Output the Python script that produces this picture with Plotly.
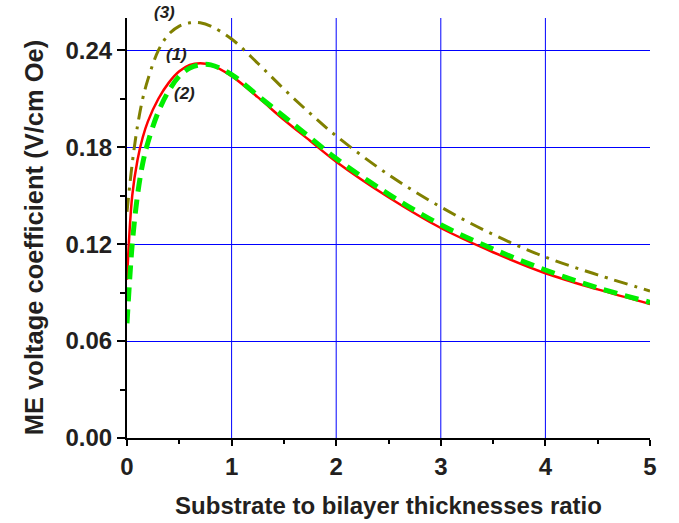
import plotly.graph_objects as go

ratio = [0, 0.05, 0.1, 0.15, 0.2, 0.3, 0.4, 0.5, 0.6, 0.7, 0.8, 1.0, 1.25, 1.5, 1.75,
         2.0, 2.5, 3.0, 3.5, 4.0, 4.5, 5.0]
curve1 = [0.098, 0.150, 0.172, 0.186, 0.196, 0.210, 0.220, 0.227, 0.231, 0.232, 0.231,
          0.224, 0.211, 0.197, 0.184, 0.171, 0.149, 0.130, 0.115, 0.102, 0.092, 0.083]
curve2 = [0.071, 0.120, 0.150, 0.170, 0.183, 0.202, 0.215, 0.224, 0.229, 0.231, 0.231,
          0.225, 0.212, 0.199, 0.186, 0.173, 0.151, 0.132, 0.117, 0.104, 0.093, 0.084]
curve3 = [0.140, 0.170, 0.193, 0.210, 0.222, 0.240, 0.250, 0.255, 0.257, 0.257, 0.255,
          0.247, 0.232, 0.216, 0.201, 0.187, 0.163, 0.143, 0.126, 0.112, 0.101, 0.091]

xticks = [0, 1, 2, 3, 4, 5]
yticks = [0.00, 0.06, 0.12, 0.18, 0.24]
ytick_text = ["0.00", "0.06", "0.12", "0.18", "0.24"]

FONT = "Liberation Sans, Arial, sans-serif"
TXT = "#231f20"

fig = go.Figure()
fig.add_trace(go.Scatter(x=ratio, y=curve3, mode="lines", line_shape="spline",
                         line=dict(color="#808000", width=3, dash="14px,7px,3px,7px")))
fig.add_trace(go.Scatter(x=ratio, y=curve1, mode="lines", line_shape="spline",
                         line=dict(color="#ff0000", width=2.5)))
fig.add_trace(go.Scatter(x=ratio, y=curve2, mode="lines", line_shape="spline",
                         line=dict(color="#00ee00", width=5, dash="14px,8px")))

for gx in xticks[1:-1]:
    fig.add_shape(type="line", xref="x", yref="paper", x0=gx, x1=gx, y0=0, y1=1,
                  line=dict(color="#0000ff", width=1), layer="below")

labels = [("(3)", 0.24, 1.013), ("(1)", 0.35, 0.913), ("(2)", 0.43, 0.82)]
for txt, lx, ly in labels:
    fig.add_annotation(x=lx, y=ly, xref="x", yref="paper", text="<b><i>%s</i></b>" % txt,
                       showarrow=False, font=dict(size=17, color=TXT, family=FONT),
                       xanchor="left", yanchor="middle")

fig.add_annotation(x=-0.178, y=0.478, xref="paper", yref="paper", textangle=-90,
                   text="<b>ME voltage coefficient (V/cm Oe)</b>", showarrow=False,
                   font=dict(size=25.5, family=FONT, color=TXT),
                   xanchor="center", yanchor="middle")

fig.update_layout(
    width=679, height=523,
    margin=dict(l=127, r=29, t=18, b=85),
    paper_bgcolor="white", plot_bgcolor="white",
    showlegend=False,
    font=dict(family=FONT, color=TXT, size=24),
    xaxis=dict(range=[0, 5], tickvals=xticks, ticktext=["<b>%d</b>" % v for v in xticks],
               showgrid=False, zeroline=False, showline=True, linecolor="black", linewidth=2,
               ticks="outside", ticklen=6, tickwidth=2, tickcolor="black",
               minor=dict(dtick=0.5, ticks="outside", ticklen=4, tickwidth=1.5, tickcolor="black"),
               tickfont=dict(size=24, family=FONT, color=TXT), automargin=False,
               title=dict(text="<b>Substrate to bilayer thicknesses ratio</b>",
                          font=dict(size=24, family=FONT, color=TXT), standoff=18)),
    yaxis=dict(range=[0, 0.26], tickvals=yticks, ticktext=["<b>%s</b>" % t for t in ytick_text],
               showgrid=True, gridcolor="#0000ff", gridwidth=1, zeroline=False,
               showline=True, linecolor="black", linewidth=2,
               ticks="outside", ticklen=8, tickwidth=2, tickcolor="black",
               minor=dict(tickvals=[0.03, 0.09, 0.15, 0.21], ticks="outside", ticklen=5,
                          tickwidth=1.5, tickcolor="black", showgrid=False),
               tickfont=dict(size=24, family=FONT, color=TXT), automargin=False),
)
fig.write_html("out.html", config={"displayModeBar": False},
               post_script="document.body.style.margin='0px';")
